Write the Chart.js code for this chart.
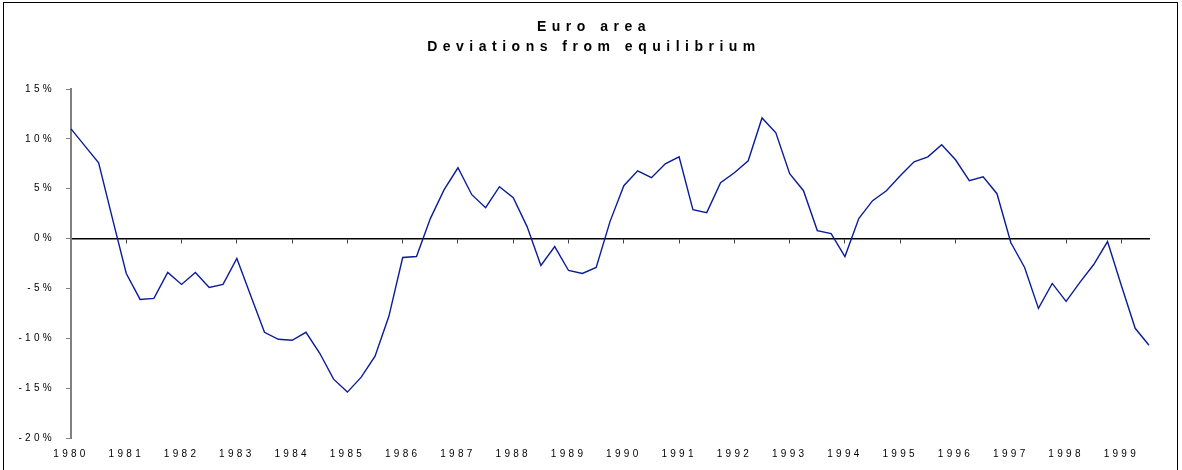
<!DOCTYPE html>
<html>
<head>
<meta charset="utf-8">
<script src="https://cdn.jsdelivr.net/npm/chart.js@4"></script>
<style>
    html, body { margin: 0; padding: 0; background: #fff; }
    .wrap { position: relative; width: 1182px; height: 470px; overflow: hidden; }
    .frame { position: absolute; left: 3px; top: 2px; width: 1175px; height: 480px; border: 1px solid #000; box-sizing: border-box; pointer-events: none; }
    canvas { display: block; }
</style>
</head>
<body>
<div class="wrap">
    <canvas id="deviationChart" width="1182" height="470"></canvas>
    <div class="frame"></div>
</div>
<script>
const titleLines = ['Euro area', 'Deviations from equilibrium'];

const years = ['1980', '1981', '1982', '1983', '1984', '1985', '1986', '1987', '1988', '1989',
               '1990', '1991', '1992', '1993', '1994', '1995', '1996', '1997', '1998', '1999'];
const quarters = ['Q1', 'Q2', 'Q3', 'Q4'];

// quarterly deviation from equilibrium, %, 1980Q1 .. 1999Q3
const deviations = [
    11.0, 9.3, 7.6, 2.0,
    -3.5, -6.1, -6.0, -3.4,
    -4.6, -3.4, -4.9, -4.6,
    -2.0, -5.7, -9.4, -10.1,
    -10.2, -9.4, -11.5, -14.1,
    -15.4, -13.9, -11.8, -7.8,
    -1.9, -1.8, 2.0, 4.9,
    7.1, 4.4, 3.1, 5.2,
    4.1, 1.2, -2.7, -0.8,
    -3.2, -3.5, -2.9, 1.7,
    5.3, 6.8, 6.1, 7.5,
    8.2, 2.9, 2.6, 5.6,
    6.6, 7.8, 12.1, 10.6,
    6.5, 4.8, 0.8, 0.5,
    -1.8, 2.0, 3.8, 4.8,
    6.3, 7.7, 8.2, 9.4,
    7.9, 5.8, 6.2, 4.5,
    -0.4, -2.9, -7.0, -4.5,
    -6.3, -4.4, -2.6, -0.3,
    -4.7, -9.0, -10.7
];

const categories = years.flatMap(y => quarters.map(q => `${y} ${q}`)).slice(0, deviations.length);

const FONT_FAMILY = '"Liberation Sans", Arial, sans-serif';
const TICK_SPACING = '3.3px';

// Chart.js has no letter spacing option, so set it on the context
const spacingPlugin = {
    id: 'letterSpacing',
    beforeUpdate(chart) { chart.ctx.letterSpacing = TICK_SPACING; },
    beforeLayout(chart) { chart.ctx.letterSpacing = TICK_SPACING; },
    beforeDraw(chart) { chart.ctx.letterSpacing = TICK_SPACING; }
};

const spacedTitle = {
    id: 'spacedTitle',
    afterDraw(chart) {
        const ctx = chart.ctx;
        ctx.save();
        ctx.letterSpacing = '5.5px';
        ctx.font = `bold 14px ${FONT_FAMILY}`;
        ctx.fillStyle = '#000';
        ctx.textAlign = 'center';
        ctx.textBaseline = 'middle';
        titleLines.forEach((line, i) => ctx.fillText(line, chart.width / 2 + 3, 27 + i * 20));
        ctx.restore();
    }
};

const tickFont = { family: FONT_FAMILY, size: 10 };

new Chart(document.getElementById('deviationChart').getContext('2d'), {
    type: 'line',
    data: {
        labels: categories,
        datasets: [{
            data: deviations,
            borderColor: '#0b1c98',
            borderWidth: 1.4,
            pointRadius: 0,
            fill: false,
            tension: 0
        }]
    },
    options: {
        responsive: false,
        animation: false,
        layout: { padding: { top: 89, right: 33, left: 0, bottom: 0 } },
        plugins: {
            legend: { display: false },
            title: { display: false },
            tooltip: { enabled: false }
        },
        scales: {
            x: {
                type: 'category',
                position: 'bottom',
                offset: false,
                grid: { display: false, drawTicks: false },
                border: { display: false },
                ticks: {
                    autoSkip: false,
                    maxRotation: 0,
                    padding: 10,
                    color: '#000',
                    font: tickFont,
                    callback: (val, i) => i % 4 === 0 ? categories[i].slice(0, 4) : ''
                },
                afterFit: scale => { scale.height = 32; }
            },
            x2: {
                type: 'category',
                position: { y: 0 },
                offset: false,
                grid: {
                    drawOnChartArea: false,
                    tickLength: 4,
                    lineWidth: 1,
                    color: ctx => ctx.index % 4 === 0 ? '#444' : 'rgba(0,0,0,0)'
                },
                border: { color: '#000', width: 1.5 },
                ticks: { display: false }
            },
            y: {
                min: -20,
                max: 15,
                ticks: {
                    stepSize: 5,
                    padding: 11,
                    color: '#000',
                    font: tickFont,
                    callback: v => `${v}%`
                },
                grid: { drawOnChartArea: false, tickLength: 5, color: '#808080' },
                border: { color: '#808080', width: 2 },
                afterFit: scale => { scale.width = 71; }
            }
        }
    },
    plugins: [spacingPlugin, spacedTitle]
});
</script>
</body>
</html>
